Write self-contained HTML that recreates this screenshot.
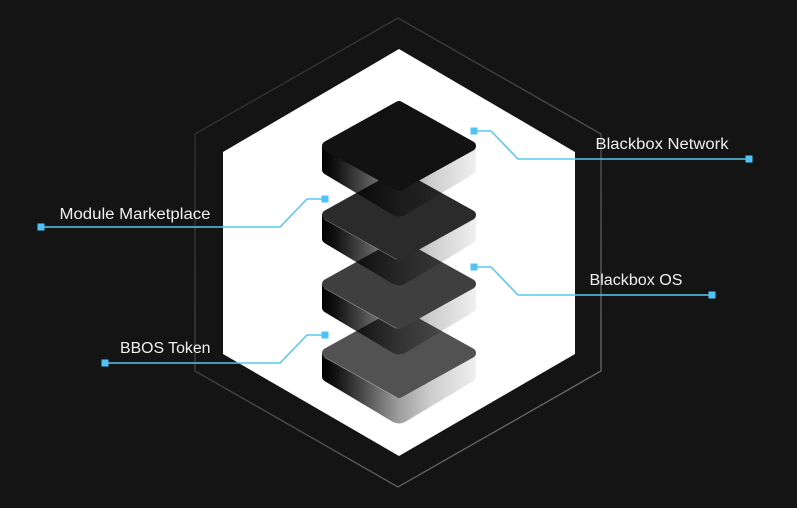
<!DOCTYPE html>
<html><head><meta charset="utf-8">
<style>html,body{margin:0;padding:0;background:#141414;width:797px;height:508px;overflow:hidden}svg{display:block}
text{font-family:"Liberation Sans",sans-serif;font-size:15.5px;fill:#efefef}</style></head>
<body>
<svg width="797" height="508" viewBox="0 0 797 508" xmlns="http://www.w3.org/2000/svg">
<defs>
<linearGradient id="hx" gradientUnits="userSpaceOnUse" x1="195" y1="50" x2="601" y2="450">
<stop offset="0" stop-color="#2a2a2a"/><stop offset=".5" stop-color="#444"/><stop offset="1" stop-color="#6e6e6e"/>
</linearGradient>
<linearGradient id="side" gradientUnits="userSpaceOnUse" x1="322" y1="0" x2="476" y2="0">
<stop offset="0" stop-color="#000" stop-opacity="1"/>
<stop offset=".1" stop-color="#000" stop-opacity=".92"/>
<stop offset=".3" stop-color="#000" stop-opacity=".66"/>
<stop offset=".5" stop-color="#000" stop-opacity=".38"/>
<stop offset=".7" stop-color="#000" stop-opacity=".2"/>
<stop offset="1" stop-color="#000" stop-opacity=".06"/>
</linearGradient>
<path id="sidebody" d="M322 0 V24 Q322 27 327 29.5 L393 69 Q399 72 405 69 L471 29.5 Q476 27 476 24 V0 Z" fill="url(#side)"/>
</defs>
<rect width="797" height="508" fill="#141414"/>
<polygon points="398,18 601,134 601,371 398,487 195,371 195,134" fill="none" stroke="url(#hx)" stroke-width="1.4"/>
<polygon points="399,49 575,152 575,354 399,456 223,354 223,152" fill="#fff"/>

<!-- layer 4 -->
<use href="#sidebody" y="353"/>
<path d="M399 313 L471 353 L399 393 L327 353 Z" fill="#525252" stroke="#525252" stroke-width="10" stroke-linejoin="round"/>
<path d="M324.6 357.4 L396.6 397.4" fill="none" stroke="#bbb" stroke-width=".7" opacity=".7"/>
<!-- layer 3 -->
<use href="#sidebody" y="284"/>
<path d="M399 244 L471 284 L399 324 L327 284 Z" fill="#3f3f3f" stroke="#3f3f3f" stroke-width="10" stroke-linejoin="round"/>
<path d="M324.6 288.4 L396.6 328.4" fill="none" stroke="#bbb" stroke-width=".7" opacity=".6"/>
<!-- layer 2 -->
<use href="#sidebody" y="215"/>
<path d="M399 175 L471 215 L399 255 L327 215 Z" fill="#2b2b2b" stroke="#2b2b2b" stroke-width="10" stroke-linejoin="round"/>
<path d="M324.6 219.4 L396.6 259.4" fill="none" stroke="#bbb" stroke-width=".7" opacity=".5"/>
<!-- layer 1 -->
<use href="#sidebody" y="146"/>
<path d="M399 106 L471 146 L399 186 L327 146 Z" fill="#121212" stroke="#121212" stroke-width="10" stroke-linejoin="round"/>

<!-- connectors -->
<g fill="none" stroke="#5ac8ef" stroke-width="1.6">
<polyline points="474,131 491,131 518,159 749,159"/>
<polyline points="325,199 307,199 280,227 41,227"/>
<polyline points="474,267 491,267 518,295 712,295"/>
<polyline points="325,335 307,335 280,363 105,363"/>
</g>
<g fill="#4fc3f7">
<rect x="470.5" y="127.5" width="7" height="7"/><rect x="745.5" y="155.5" width="7" height="7"/>
<rect x="321.5" y="195.5" width="7" height="7"/><rect x="37.5" y="223.5" width="7" height="7"/>
<rect x="470.5" y="263.5" width="7" height="7"/><rect x="708.5" y="291.5" width="7" height="7"/>
<rect x="321.5" y="331.5" width="7" height="7"/><rect x="101.5" y="359.5" width="7" height="7"/>
</g>
<text x="595.5" y="149" textLength="133" lengthAdjust="spacingAndGlyphs">Blackbox Network</text>
<text x="59.5" y="219" textLength="151" lengthAdjust="spacingAndGlyphs">Module Marketplace</text>
<text x="589.5" y="285" textLength="93" lengthAdjust="spacingAndGlyphs">Blackbox OS</text>
<text x="120" y="353" textLength="90.5" lengthAdjust="spacingAndGlyphs">BBOS Token</text>
</svg>
</body></html>
